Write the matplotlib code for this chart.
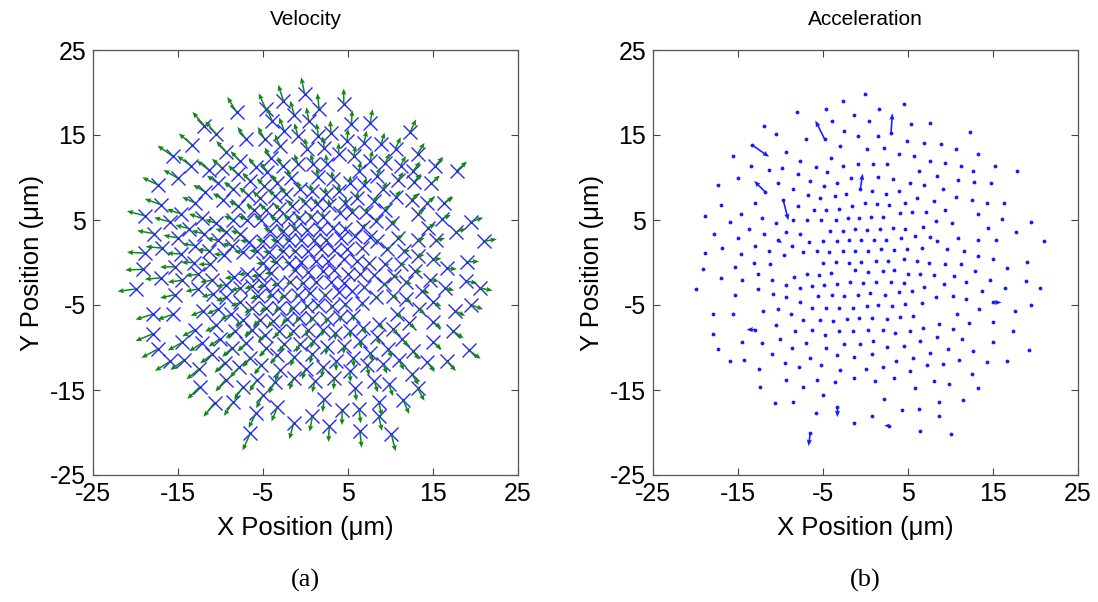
import matplotlib
matplotlib.use("Agg")
import matplotlib.pyplot as plt
import numpy as np

plt.rcParams['font.family'] = ['Liberation Sans', 'DejaVu Sans']
plt.rcParams['axes.unicode_minus'] = False

# particle positions (um), left / middle / right strips
xy_left = [
    (-8.1, 17.7), (-11.9, 16.1), (-10.5, 15.1), (-7.0, 14.5), (-13.3, 13.8),
    (-15.6, 12.5), (-9.3, 13.0), (-7.7, 11.9), (-13.5, 11.4), (-11.4, 10.9),
    (-9.8, 11.1), (-8.0, 10.4), (-5.8, 11.2), (-15.0, 9.9), (-17.3, 9.1),
    (-11.8, 8.3), (-10.3, 9.3), (-8.5, 8.6), (-6.5, 9.6), (-6.8, 8.0),
    (-17.0, 6.8), (-13.0, 7.0), (-9.7, 7.4), (-7.9, 6.6), (-6.1, 6.2),
    (-18.9, 5.5), (-16.0, 4.8), (-14.6, 5.7), (-12.2, 5.2), (-10.5, 4.6),
    (-8.5, 5.0), (-6.9, 5.0), (-17.8, 3.4), (-13.7, 4.0), (-12.0, 3.4),
    (-15.0, 2.9), (-10.3, 2.6), (-9.4, 3.6), (-7.7, 3.4), (-16.9, 1.7),
    (-13.0, 2.0), (-11.3, 1.4), (-8.7, 2.0), (-6.7, 2.4), (-18.9, 1.1),
    (-14.6, 1.0), (-13.1, 0.0), (-11.2, -0.2), (-9.6, 0.9), (-7.4, 1.2),
    (-19.1, -0.8), (-15.4, -0.5), (-12.6, -1.4), (-11.0, -2.1), (-8.4, -1.7),
    (-6.9, -1.3), (-17.0, -1.8), (-14.5, -2.1), (-19.9, -3.1), (-12.6, -3.1),
    (-9.3, -2.6), (-7.7, -3.0), (-6.3, -2.8), (-15.4, -3.8), (-10.9, -3.7),
    (-9.3, -4.1), (-7.7, -4.7), (-6.3, -5.4), (-18.0, -6.1), (-15.6, -6.1),
    (-12.1, -5.7), (-10.3, -5.5), (-8.8, -6.1), (-7.3, -6.8), (-13.0, -7.9),
    (-10.5, -7.4), (-8.3, -8.1), (-6.3, -7.9), (-18.0, -8.4), (-14.5, -9.4),
    (-12.2, -9.5), (-10.1, -9.0), (-7.0, -9.5), (-17.4, -10.2), (-11.0, -10.8),
    (-8.7, -10.1), (-6.5, -11.2), (-15.9, -11.6), (-14.3, -11.5), (-9.5, -11.8),
    (-7.8, -12.3), (-12.5, -12.5), (-9.4, -13.8), (-12.4, -14.6), (-7.4, -14.7),
    (-10.7, -16.5), (-8.5, -16.4), (-5.8, -17.7), (-6.5, -20.1),
]
xy_mid = [
    (-0.1, 19.8), (-2.6, 19.0), (-4.7, 18.1), (1.6, 18.1), (4.5, 18.6),
    (-1.3, 17.3), (3.0, 15.2), (-4.8, 14.5), (-3.9, 16.6), (0.4, 16.6),
    (5.4, 16.3), (7.6, 16.4), (-2.5, 15.5), (-0.9, 14.9), (1.5, 14.9),
    (4.9, 14.3), (6.9, 14.1), (8.9, 13.9), (-3.0, 13.7), (0.2, 13.3),
    (2.2, 13.5), (3.9, 12.8), (5.7, 12.5), (7.6, 12.0), (-4.1, 12.3),
    (-0.9, 11.6), (0.9, 11.6), (2.5, 11.6), (-2.7, 11.3), (-4.5, 10.7),
    (-0.6, 8.7), (-1.7, 10.0), (1.5, 10.1), (3.2, 9.8), (6.3, 10.8),
    (8.4, 10.2), (-3.3, 9.4), (5.2, 9.3), (6.9, 9.1), (-4.9, 9.0),
    (-2.3, 8.1), (0.8, 8.4), (2.4, 8.1), (3.9, 8.4), (9.1, 8.6),
    (-5.4, 7.6), (-3.6, 7.8), (-1.6, 6.7), (-0.1, 7.0), (1.3, 6.9),
    (2.8, 6.8), (4.7, 7.0), (6.0, 7.6), (8.1, 7.2), (-4.6, 6.2),
    (-3.1, 6.3), (-5.2, 5.0), (-3.5, 5.0), (-2.1, 5.2), (-0.8, 5.2),
    (0.7, 5.3), (2.1, 5.4), (4.0, 5.8), (5.5, 5.9), (7.1, 6.0),
    (8.3, 4.9), (-4.2, 3.7), (-2.7, 3.7), (-1.2, 4.0), (0.2, 3.8),
    (1.7, 4.0), (3.2, 4.1), (4.7, 4.0), (6.8, 4.2), (-5.0, 2.5),
    (-3.4, 2.5), (-2.0, 2.6), (-0.5, 2.6), (1.0, 2.6), (2.4, 2.7),
    (4.2, 2.9), (5.8, 3.1), (7.6, 3.0), (-5.7, 1.3), (-4.3, 1.2),
    (-2.7, 1.4), (-1.2, 1.3), (0.3, 1.4), (1.8, 1.6), (3.4, 1.5),
    (4.9, 1.6), (6.7, 1.7), (8.4, 2.5), (-5.0, -0.1), (-3.5, 0.1),
    (-2.0, 0.0), (-0.5, 0.1), (1.2, 0.2), (2.7, 0.2), (4.5, 0.4),
    (6.0, 0.2), (7.5, -0.1), (-5.5, -1.5), (-4.1, -1.2), (-1.2, -0.9),
    (0.3, -1.1), (2.0, -1.0), (3.4, -0.9), (5.0, -1.3), (6.4, -1.4),
    (8.0, -1.5), (-4.9, -2.7), (-3.3, -2.5), (-1.8, -2.3), (-0.3, -2.4),
    (1.2, -2.3), (3.0, -2.3), (4.5, -2.4), (6.9, -2.9), (9.2, -2.5),
    (-5.6, -3.9), (-3.9, -3.8), (-2.5, -3.9), (-0.9, -3.8), (0.5, -3.6),
    (2.3, -3.8), (3.9, -3.5), (5.5, -3.3), (8.3, -4.0), (-4.6, -5.3),
    (-3.1, -5.3), (-1.5, -5.3), (0.2, -5.1), (1.5, -5.0), (3.1, -5.1),
    (4.7, -4.9), (6.6, -4.8), (-5.4, -6.8), (-3.8, -6.9), (-2.2, -6.6),
    (-0.8, -6.5), (0.8, -6.5), (2.5, -6.6), (4.1, -6.4), (5.6, -6.3),
    (8.7, -7.2), (-4.8, -8.5), (-3.1, -8.1), (-1.5, -8.1), (0.3, -7.9),
    (2.1, -7.9), (3.5, -8.3), (5.2, -8.1), (6.8, -7.7), (8.4, -8.8),
    (-4.6, -10.1), (-2.5, -9.6), (-0.7, -9.6), (0.9, -9.2), (2.5, -9.9),
    (4.5, -9.8), (6.4, -9.2), (7.6, -10.6), (-3.4, -10.9), (-1.3, -11.1),
    (0.8, -10.8), (3.6, -11.6), (5.6, -11.2), (-5.2, -12.0), (-3.0, -12.7),
    (0.0, -12.5), (2.1, -12.3), (5.2, -12.8), (7.2, -12.1), (9.1, -11.9),
    (-5.7, -13.8), (-3.6, -14.0), (-1.4, -13.6), (1.1, -13.9), (3.4, -13.6),
    (5.8, -14.8), (8.1, -13.9), (-5.0, -15.6), (2.2, -16.0), (6.3, -17.2),
    (8.6, -16.4), (-3.3, -17.0), (0.8, -18.1), (4.3, -17.4), (8.6, -18.0),
    (-1.4, -18.9), (2.8, -19.2), (6.4, -19.8),
]
xy_right = [
    (12.3, 15.3), (10.6, 13.4), (13.2, 12.8), (9.4, 11.7), (11.2, 11.4),
    (12.7, 10.8), (15.2, 11.3), (17.8, 10.8), (10.9, 9.7), (12.8, 9.5),
    (14.8, 9.3), (10.6, 7.7), (12.5, 7.4), (14.3, 7.0), (16.3, 7.0),
    (9.4, 6.2), (13.2, 5.7), (16.0, 5.1), (19.5, 4.8), (10.2, 4.6),
    (14.4, 4.1), (17.7, 3.6), (10.9, 2.9), (13.2, 2.6), (15.4, 2.6),
    (21.0, 2.5), (9.6, 1.6), (11.6, 1.3), (13.2, 0.8), (15.0, 0.4),
    (19.0, 0.1), (9.4, -0.2), (11.2, -0.2), (16.7, -0.7), (12.9, -1.0),
    (10.4, -1.6), (11.8, -2.3), (14.7, -2.0), (18.9, -2.2), (13.7, -3.3),
    (16.4, -3.0), (20.5, -3.0), (10.3, -3.9), (11.8, -4.3), (15.0, -4.7),
    (10.8, -6.0), (13.3, -5.5), (17.6, -5.7), (19.5, -5.0), (12.2, -7.1),
    (15.0, -7.0), (10.3, -7.8), (17.4, -8.1), (11.4, -9.0), (15.0, -9.3),
    (9.7, -10.2), (12.6, -10.4), (19.2, -10.3), (11.0, -11.5), (14.3, -11.7),
    (16.6, -11.6), (12.5, -13.1), (9.8, -14.3), (13.2, -14.8), (11.5, -16.2),
    (10.1, -20.2),
]

# velocity arrows (um per frame), same order as the positions
uv_left = [
    (-1.1, 1.77), (-1.4, 1.61), (-1.3, 1.51), (-1.0, 1.45), (-1.6, 1.38),
    (-1.8, 1.25), (-1.2, 1.30), (-1.1, 1.19), (-1.6, 1.14), (-1.4, 1.09),
    (-1.2, 1.11), (-1.1, 1.04), (-0.9, 1.12), (-1.7, 0.99), (-1.9, 0.91),
    (-1.4, 0.83), (-1.3, 0.93), (-1.1, 0.86), (-0.9, 0.96), (-1.0, 0.80),
    (-1.9, 0.68), (-1.5, 0.70), (-1.2, 0.74), (-1.1, 0.66), (-0.9, 0.62),
    (-2.1, 0.55), (-1.8, 0.48), (-1.7, 0.57), (-1.5, 0.52), (-1.3, 0.46),
    (-1.1, 0.50), (-1.0, 0.50), (-2.0, 0.34), (-1.6, 0.40), (-1.4, 0.34),
    (-1.7, 0.29), (-1.3, 0.26), (-1.2, 0.36), (-1.1, 0.34), (-1.9, 0.17),
    (-1.5, 0.20), (-1.4, 0.14), (-1.1, 0.20), (-1.0, 0.24), (-2.1, 0.11),
    (-1.7, 0.10), (-1.5, 0.00), (-1.4, -0.02), (-1.2, 0.09), (-1.0, 0.12),
    (-2.1, -0.08), (-1.7, -0.05), (-1.5, -0.14), (-1.4, -0.21), (-1.1, -0.17),
    (-1.0, -0.13), (-1.9, -0.18), (-1.7, -0.21), (-2.2, -0.31), (-1.5, -0.31),
    (-1.2, -0.26), (-1.1, -0.30), (-0.9, -0.28), (-1.7, -0.38), (-1.3, -0.37),
    (-1.2, -0.41), (-1.1, -0.47), (-0.9, -0.54), (-2.0, -0.61), (-1.8, -0.61),
    (-1.4, -0.57), (-1.3, -0.55), (-1.2, -0.61), (-1.0, -0.68), (-1.5, -0.79),
    (-1.3, -0.74), (-1.1, -0.81), (-0.9, -0.79), (-2.0, -0.84), (-1.7, -0.94),
    (-1.5, -0.95), (-1.3, -0.90), (-1.0, -0.95), (-1.9, -1.02), (-1.4, -1.08),
    (-1.1, -1.01), (-0.9, -1.12), (-1.8, -1.16), (-1.6, -1.15), (-1.2, -1.18),
    (-1.1, -1.23), (-1.5, -1.25), (-1.2, -1.38), (-1.5, -1.46), (-1.0, -1.47),
    (-1.3, -1.65), (-1.1, -1.64), (-0.9, -1.77), (-0.9, -2.01),
]
uv_mid = [
    (-0.4, 1.98), (-0.6, 1.90), (-0.8, 1.81), (-0.2, 1.81), (0.0, 1.86),
    (-0.5, 1.73), (-0.1, 1.52), (-0.8, 1.45), (-0.7, 1.66), (-0.3, 1.66),
    (0.1, 1.63), (0.3, 1.64), (-0.6, 1.55), (-0.4, 1.49), (-0.2, 1.49),
    (0.1, 1.43), (0.3, 1.41), (0.4, 1.39), (-0.6, 1.37), (-0.3, 1.33),
    (-0.2, 1.35), (0.0, 1.28), (0.2, 1.25), (0.3, 1.20), (-0.7, 1.23),
    (-0.4, 1.16), (-0.3, 1.16), (-0.1, 1.16), (-0.6, 1.13), (-0.8, 1.07),
    (-0.4, 0.87), (-0.5, 1.00), (-0.2, 1.01), (-0.1, 0.98), (0.2, 1.08),
    (0.4, 1.02), (-0.7, 0.94), (0.1, 0.93), (0.3, 0.91), (-0.8, 0.90),
    (-0.6, 0.81), (-0.3, 0.84), (-0.1, 0.81), (0.0, 0.84), (0.5, 0.86),
    (-0.8, 0.76), (-0.7, 0.78), (-0.5, 0.67), (-0.4, 0.70), (-0.2, 0.69),
    (-0.1, 0.68), (0.1, 0.70), (0.2, 0.76), (0.4, 0.72), (-0.8, 0.62),
    (-0.6, 0.63), (-0.8, 0.50), (-0.7, 0.50), (-0.5, 0.52), (-0.4, 0.52),
    (-0.3, 0.53), (-0.2, 0.54), (0.0, 0.58), (0.1, 0.59), (0.3, 0.60),
    (0.4, 0.49), (-0.7, 0.37), (-0.6, 0.37), (-0.5, 0.40), (-0.3, 0.38),
    (-0.2, 0.40), (-0.1, 0.41), (0.1, 0.40), (0.3, 0.42), (-0.8, 0.25),
    (-0.7, 0.25), (-0.5, 0.26), (-0.4, 0.26), (-0.3, 0.26), (-0.1, 0.27),
    (0.0, 0.29), (0.2, 0.31), (0.3, 0.30), (-0.9, 0.13), (-0.7, 0.12),
    (-0.6, 0.14), (-0.5, 0.13), (-0.3, 0.14), (-0.2, 0.16), (-0.1, 0.15),
    (0.1, 0.16), (0.2, 0.17), (0.4, 0.25), (-0.8, -0.01), (-0.7, 0.01),
    (-0.5, 0.00), (-0.4, 0.01), (-0.3, 0.02), (-0.1, 0.02), (0.0, 0.04),
    (0.2, 0.02), (0.3, -0.01), (-0.9, -0.15), (-0.7, -0.12), (-0.5, -0.09),
    (-0.3, -0.11), (-0.2, -0.10), (-0.1, -0.09), (0.1, -0.13), (0.2, -0.14),
    (0.4, -0.15), (-0.8, -0.27), (-0.7, -0.25), (-0.5, -0.23), (-0.4, -0.24),
    (-0.2, -0.23), (-0.1, -0.23), (0.0, -0.24), (0.3, -0.29), (0.5, -0.25),
    (-0.9, -0.39), (-0.7, -0.38), (-0.6, -0.39), (-0.4, -0.38), (-0.3, -0.36),
    (-0.2, -0.38), (0.0, -0.35), (0.1, -0.33), (0.4, -0.40), (-0.8, -0.53),
    (-0.6, -0.53), (-0.5, -0.53), (-0.3, -0.51), (-0.2, -0.50), (-0.1, -0.51),
    (0.1, -0.49), (0.2, -0.48), (-0.8, -0.68), (-0.7, -0.69), (-0.6, -0.66),
    (-0.4, -0.65), (-0.3, -0.65), (-0.1, -0.66), (0.0, -0.64), (0.1, -0.63),
    (0.4, -0.72), (-0.8, -0.85), (-0.6, -0.81), (-0.5, -0.81), (-0.3, -0.79),
    (-0.2, -0.79), (0.0, -0.83), (0.1, -0.81), (0.3, -0.77), (0.4, -0.88),
    (-0.8, -1.01), (-0.6, -0.96), (-0.4, -0.96), (-0.3, -0.92), (-0.1, -0.99),
    (0.0, -0.98), (0.2, -0.92), (0.3, -1.06), (-0.7, -1.09), (-0.5, -1.11),
    (-0.3, -1.08), (0.0, -1.16), (0.1, -1.12), (-0.8, -1.20), (-0.6, -1.27),
    (-0.4, -1.25), (-0.2, -1.23), (0.1, -1.28), (0.3, -1.21), (0.5, -1.19),
    (-0.9, -1.38), (-0.7, -1.40), (-0.5, -1.36), (-0.3, -1.39), (-0.1, -1.36),
    (0.2, -1.48), (0.4, -1.39), (-0.8, -1.56), (-0.2, -1.60), (0.2, -1.72),
    (0.4, -1.64), (-0.7, -1.70), (-0.3, -1.81), (0.0, -1.74), (0.4, -1.80),
    (-0.5, -1.89), (-0.1, -1.92), (0.2, -1.98),
]
uv_right = [
    (0.7, 1.53), (0.6, 1.34), (0.8, 1.28), (0.5, 1.17), (0.6, 1.14),
    (0.8, 1.08), (1.0, 1.13), (1.2, 1.08), (0.6, 0.97), (0.8, 0.95),
    (1.0, 0.93), (0.6, 0.77), (0.8, 0.74), (0.9, 0.70), (1.1, 0.70),
    (0.5, 0.62), (0.8, 0.57), (1.1, 0.51), (1.4, 0.48), (0.6, 0.46),
    (0.9, 0.41), (1.2, 0.36), (0.6, 0.29), (0.8, 0.26), (1.0, 0.26),
    (1.5, 0.25), (0.5, 0.16), (0.7, 0.13), (0.8, 0.08), (1.0, 0.04),
    (1.4, 0.01), (0.5, -0.02), (0.6, -0.02), (1.1, -0.07), (0.8, -0.10),
    (0.6, -0.16), (0.7, -0.23), (1.0, -0.20), (1.3, -0.22), (0.9, -0.33),
    (1.1, -0.30), (1.5, -0.30), (0.6, -0.39), (0.7, -0.43), (1.0, -0.47),
    (0.6, -0.60), (0.8, -0.55), (1.2, -0.57), (1.4, -0.50), (0.7, -0.71),
    (1.0, -0.70), (0.6, -0.78), (1.2, -0.81), (0.7, -0.90), (1.0, -0.93),
    (0.5, -1.02), (0.8, -1.04), (1.4, -1.03), (0.6, -1.15), (0.9, -1.17),
    (1.1, -1.16), (0.8, -1.31), (0.5, -1.43), (0.8, -1.48), (0.7, -1.62),
    (0.5, -2.02),
]

# the few large acceleration arrows (base position and vector)
acc_x = [-13.3, -11.8, -9.7, -4.8, 3.0, -0.6, -6.5, -3.3, -13.0, 2.8, 15.0, -10.3]
acc_y = [13.8, 8.3, 7.4, 14.5, 15.2, 8.7, -20.1, -17.0, -7.9, -19.2, -4.7, 2.6]
acc_u = [1.96, -1.3, 0.63, -1.1, 0.16, 0.27, -0.2, 0.0, -1.0, -0.6, 1.0, 0.5]
acc_v = [-1.37, 1.3, -2.43, 2.2, 2.35, 1.76, -1.5, -1.2, 0.0, 0.0, 0.0, -0.3]

xy = np.array(xy_left + xy_mid + xy_right)
uv = np.array(uv_left + uv_mid + uv_right)
px, py = xy[:, 0], xy[:, 1]
vu, vv = uv[:, 0], uv[:, 1]

ticks = [-25, -15, -5, 5, 15, 25]

fig = plt.figure(figsize=(10.98, 6.02), dpi=100)
W, H = 1098, 602
ax1 = fig.add_axes([93 / W, 1 - 475 / H, 425 / W, 425 / H])
ax2 = fig.add_axes([653 / W, 1 - 475 / H, 425 / W, 425 / H])


def style(ax, title):
    ax.set_xlim(-25, 25)
    ax.set_ylim(-25, 25)
    ax.set_xticks(ticks)
    ax.set_yticks(ticks)
    ax.tick_params(direction='in', length=5, width=0.8, color='#444444',
                   labelsize=18, top=True, right=True, pad=5)
    for s in ax.spines.values():
        s.set_color('#555555')
        s.set_linewidth(0.9)
    ax.set_title(title, fontsize=15, pad=18)
    ax.set_xlabel('X Position (\u03bcm)', fontsize=18.5, labelpad=7)
    ax.set_ylabel('Y Position (\u03bcm)', fontsize=18.5, labelpad=4)


# (a) velocity
ax1.plot(px, py, 'x', color='#2828f5', markersize=9.5, mew=1.0)
ax1.quiver(px, py, vu, vv, angles='xy', scale_units='xy', scale=1,
           color='#118811', width=0.0036, headwidth=3.4, headlength=4,
           headaxislength=3.6, zorder=3)
style(ax1, 'Velocity')

# (b) acceleration
ax2.plot(px, py, '.', color='#1a1aff', markersize=3.5)
ax2.quiver(acc_x, acc_y, acc_u, acc_v, angles='xy', scale_units='xy', scale=1,
           color='#1a1aff', width=0.0038, headwidth=3.2, headlength=4,
           headaxislength=3.6)
style(ax2, 'Acceleration')

fig.text((93 + 212) / W, 1 - 580 / H, '(a)', ha='center', va='center',
         fontsize=19, family='Liberation Serif')
fig.text((653 + 212) / W, 1 - 580 / H, '(b)', ha='center', va='center',
         fontsize=19, family='Liberation Serif')

fig.savefig('out.png', dpi=100)
